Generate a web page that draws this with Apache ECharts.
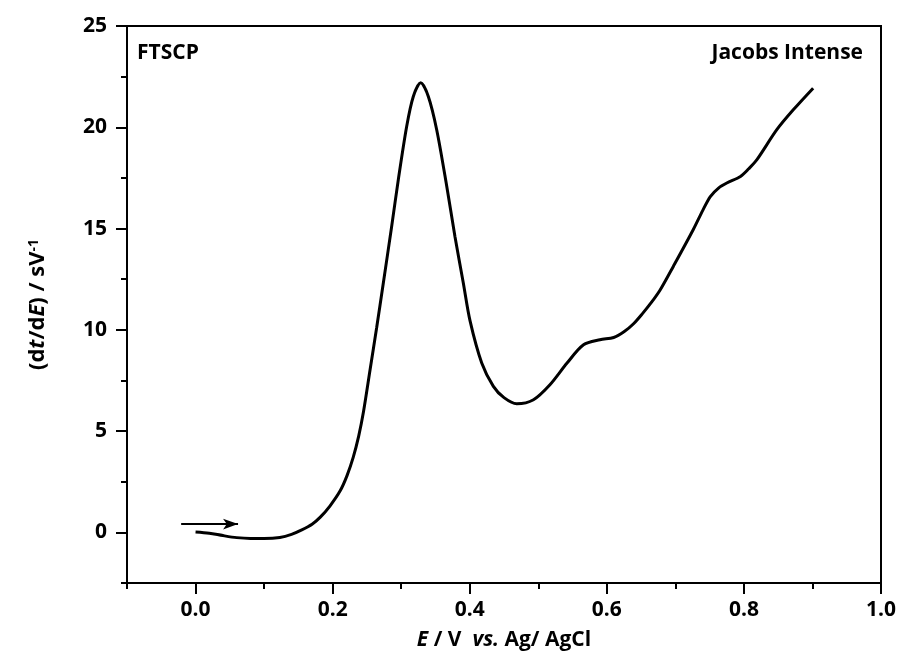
<!DOCTYPE html>
<html>
<head>
<meta charset="utf-8">
<script src="https://cdn.jsdelivr.net/npm/echarts@6/dist/echarts.min.js"></script>
<style>
html,body{margin:0;padding:0;background:#fff;}
#chart{width:901px;height:656px;}
</style>
</head>
<body>
<div id="chart"></div>
<script>
// Potential E (V vs Ag/AgCl)
const potentialE = [0.000, 0.020, 0.040, 0.060, 0.080, 0.100, 0.123, 0.140, 0.155, 0.170, 0.182, 0.196, 0.211, 0.221, 0.230, 0.238, 0.245, 0.2545, 0.2642, 0.2739, 0.2861, 0.2958, 0.308, 0.3177, 0.3285, 0.3396, 0.3518, 0.3664, 0.3785, 0.3907, 0.4004, 0.4175, 0.4345, 0.450, 0.4686, 0.493, 0.517, 0.542, 0.566, 0.590, 0.610, 0.625, 0.639, 0.652, 0.665, 0.678, 0.697, 0.726, 0.740, 0.751, 0.763, 0.775, 0.795, 0.807, 0.819, 0.848, 0.872, 0.901];
// dt/dE (s/V)
const dtdE = [0.02, -0.04, -0.16, -0.26, -0.30, -0.30, -0.25, -0.10, 0.12, 0.40, 0.75, 1.3, 2.05, 2.8, 3.7, 4.75, 5.95, 8.0, 10.1, 12.3, 15.1, 17.41, 20.04, 21.52, 22.2, 21.52, 19.88, 17.1, 14.6, 12.3, 10.45, 8.36, 7.21, 6.65, 6.35, 6.55, 7.29, 8.36, 9.26, 9.51, 9.62, 9.9, 10.3, 10.8, 11.35, 11.98, 13.13, 14.94, 15.9, 16.58, 17.0, 17.25, 17.57, 17.95, 18.4, 19.88, 20.86, 21.93];
// Scan direction arrow
const arrowX = [-0.021, 0.062];
const arrowY = [0.41, 0.41];
// Ticks
const xMajorTicks = [0.0, 0.2, 0.4, 0.6, 0.8, 1.0];
const xMinorTicks = [-0.1, 0.1, 0.3, 0.5, 0.7, 0.9];
const yMajorTicks = [0, 5, 10, 15, 20, 25];
const yMinorTicks = [-2.5, 2.5, 7.5, 12.5, 17.5, 22.5];
const sampleLabel = 'FTSCP';
const coffeeLabel = 'Jacobs Intense';

const FONT = '"Open Sans", "Noto Sans", sans-serif';
const chart = echarts.init(document.getElementById('chart'));
const lbl = {fontFamily: FONT, fontWeight: 'bold', fontSize: 21, color: '#000'};

const option = {
  animation: false,
  backgroundColor: '#fff',
  grid: {left: 127, top: 26, right: 20, bottom: 73, show: true, borderColor: '#000', borderWidth: 2, backgroundColor: 'transparent'},
  graphic: [
    {type: 'text', left: 137, top: 43, style: {text: sampleLabel, font: 'bold 21px ' + FONT, fill: '#000'}},
    {type: 'text', right: 38, top: 43, style: {text: coffeeLabel, font: 'bold 21px ' + FONT, fill: '#000'}}
  ],
  xAxis: [
    {
      type: 'value', min: -0.1, max: 1.0, interval: 0.1, position: 'bottom',
      axisLine: {show: true, onZero: false, lineStyle: {color: '#000', width: 2}},
      axisTick: {show: true, customValues: xMajorTicks, length: 11, lineStyle: {color: '#000', width: 2}},
      axisLabel: Object.assign({customValues: xMajorTicks, margin: 17, formatter: v => v.toFixed(1)}, lbl),
      splitLine: {show: false},
      name: '{i|E} / V  {i|vs.} Ag/ AgCl',
      nameLocation: 'middle', nameGap: 47,
      nameTextStyle: Object.assign({}, lbl, {rich: {i: {fontFamily: FONT, fontWeight: 'bold', fontStyle: 'italic', fontSize: 21, color: '#000'}}})
    },
    {
      type: 'value', min: -0.1, max: 1.0, interval: 0.1, position: 'bottom',
      axisLine: {show: false, onZero: false},
      axisTick: {show: true, customValues: xMinorTicks, length: 6, lineStyle: {color: '#000', width: 2}},
      axisLabel: {show: false},
      splitLine: {show: false}
    }
  ],
  yAxis: [
    {
      type: 'value', min: -2.5, max: 25, interval: 2.5, position: 'left',
      axisLine: {show: true, onZero: false, lineStyle: {color: '#000', width: 2}},
      axisTick: {show: true, customValues: yMajorTicks, length: 11, lineStyle: {color: '#000', width: 2}},
      axisLabel: Object.assign({customValues: yMajorTicks, margin: 20}, lbl),
      splitLine: {show: false},
      name: '(d{i|t}/d{i|E}) / sV{sup|-1}',
      nameLocation: 'middle', nameGap: 78, nameRotate: 90,
      nameTextStyle: Object.assign({}, lbl, {fontSize: 22, rich: {
        i: {fontFamily: FONT, fontWeight: 'bold', fontStyle: 'italic', fontSize: 22, color: '#000'},
        sup: {fontFamily: FONT, fontWeight: 'bold', fontSize: 14, color: '#000', verticalAlign: 'top'}
      }})
    },
    {
      type: 'value', min: -2.5, max: 25, interval: 2.5, position: 'left',
      axisLine: {show: false, onZero: false},
      axisTick: {show: true, customValues: yMinorTicks, length: 6, lineStyle: {color: '#000', width: 2}},
      axisLabel: {show: false},
      splitLine: {show: false}
    }
  ],
  series: [
    {
      type: 'line', xAxisIndex: 0, yAxisIndex: 0,
      data: potentialE.map((x, i) => [x, dtdE[i]]),
      showSymbol: false, symbol: 'none', smooth: 0.3,
      lineStyle: {color: '#000', width: 3},
      markLine: {
        silent: true, animation: false,
        label: {show: false},
        lineStyle: {color: '#000', width: 2, type: 'solid'},
        data: [[
          {coord: [arrowX[0], arrowY[0]], symbol: 'none'},
          {coord: [arrowX[1], arrowY[1]], symbol: 'arrow', symbolSize: [8, 15]}
        ]]
      }
    }
  ]
};
chart.setOption(option);
</script>
</body>
</html>
